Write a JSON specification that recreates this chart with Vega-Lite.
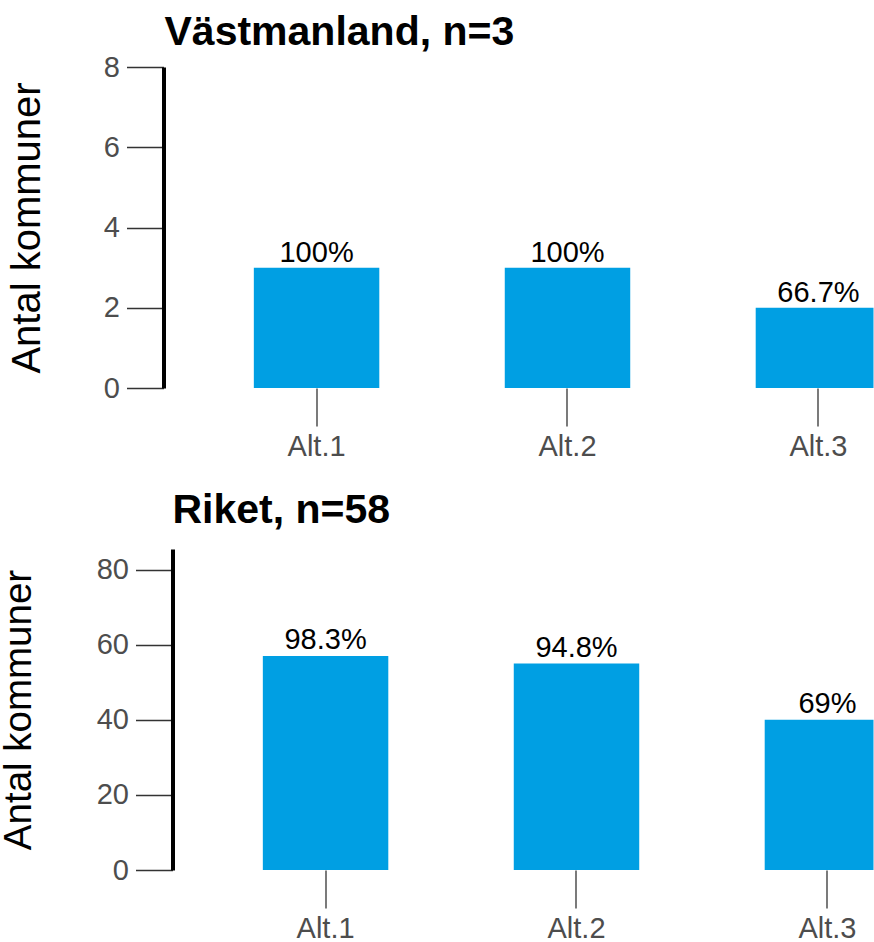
{
  "$schema": "https://vega.github.io/schema/vega-lite/v6.json",
  "padding": {"left": -0.5, "top": 12, "right": 0, "bottom": 0},
  "spacing": 29,
  "config": {"font": "Liberation Sans", "view": {"stroke": null}, "axis": {"grid": false}},
  "datasets": {
    "vm": [
      {"alt": "Alt.1", "antal": 3, "label": "100%"},
      {"alt": "Alt.2", "antal": 3, "label": "100%"},
      {"alt": "Alt.3", "antal": 2, "label": "66.7%"}
    ],
    "riket": [
      {"alt": "Alt.1", "antal": 57, "label": "98.3%"},
      {"alt": "Alt.2", "antal": 55, "label": "94.8%"},
      {"alt": "Alt.3", "antal": 40, "label": "69%"}
    ]
  },
  "vconcat": [
    {
      "width": 701,
      "height": 321,
      "title": {"text": "Västmanland, n=3", "anchor": "start", "frame": "group", "fontSize": 41, "fontWeight": "bold", "color": "#000000", "baseline": "bottom", "offset": -42, "dx": -8},
      "data": {"name": "vm"},
      "encoding": {
        "x": {"field": "alt", "type": "nominal", "sort": null,
          "scale": {"range": [-9, 799], "paddingInner": 0.5, "paddingOuter": 0.36},
          "axis": {"title": null, "domain": false, "tickSize": 38, "tickColor": "#333333", "tickWidth": 1.3, "labelFontSize": 29, "labelColor": "#4D4D4D", "labelPadding": 6, "labelAngle": 0}},
        "y": {"field": "antal", "type": "quantitative",
          "scale": {"domain": [0, 8], "nice": false},
          "axis": {"title": "Antal kommuner", "titleFontSize": 40, "titleFontWeight": "normal", "titleColor": "#000000", "titleX": -116, "titleBaseline": "bottom", "titleAngle": 270,
            "domainColor": "#000000", "domainWidth": 4, "tickSize": 37, "tickColor": "#333333", "tickWidth": 1.3,
            "labelFontSize": 29, "labelColor": "#4D4D4D", "labelPadding": 7, "values": [0, 2, 4, 6, 8], "offset": 9}}
      },
      "layer": [
        {"mark": {"type": "bar", "color": "#009FE3", "clip": true}},
        {"mark": {"type": "text", "baseline": "alphabetic", "dy": -6, "fontSize": 29, "color": "#000000"}, "encoding": {"text": {"field": "label"}}}
      ]
    },
    {
      "width": 701,
      "height": 321,
      "title": {"text": "Riket, n=58", "anchor": "start", "frame": "group", "fontSize": 41, "fontWeight": "bold", "color": "#000000", "baseline": "bottom", "offset": -24},
      "data": {"name": "riket"},
      "encoding": {
        "x": {"field": "alt", "type": "nominal", "sort": null,
          "scale": {"range": [0, 808], "paddingInner": 0.5, "paddingOuter": 0.36},
          "axis": {"title": null, "domain": false, "tickSize": 38, "tickColor": "#333333", "tickWidth": 1.3, "labelFontSize": 29, "labelColor": "#4D4D4D", "labelPadding": 6, "labelAngle": 0}},
        "y": {"field": "antal", "type": "quantitative",
          "scale": {"domain": [0, 85.5], "nice": false},
          "axis": {"title": "Antal kommuner", "titleFontSize": 38.5, "titleFontWeight": "normal", "titleColor": "#000000", "titleX": -134, "titleBaseline": "bottom", "titleAngle": 270,
            "domainColor": "#000000", "domainWidth": 4, "tickSize": 37, "tickColor": "#333333", "tickWidth": 1.3,
            "labelFontSize": 29, "labelColor": "#4D4D4D", "labelPadding": 7, "values": [0, 20, 40, 60, 80]}}
      },
      "layer": [
        {"mark": {"type": "bar", "color": "#009FE3", "clip": true}},
        {"mark": {"type": "text", "baseline": "alphabetic", "dy": -7, "fontSize": 29, "color": "#000000"}, "encoding": {"text": {"field": "label"}}}
      ]
    }
  ]
}
